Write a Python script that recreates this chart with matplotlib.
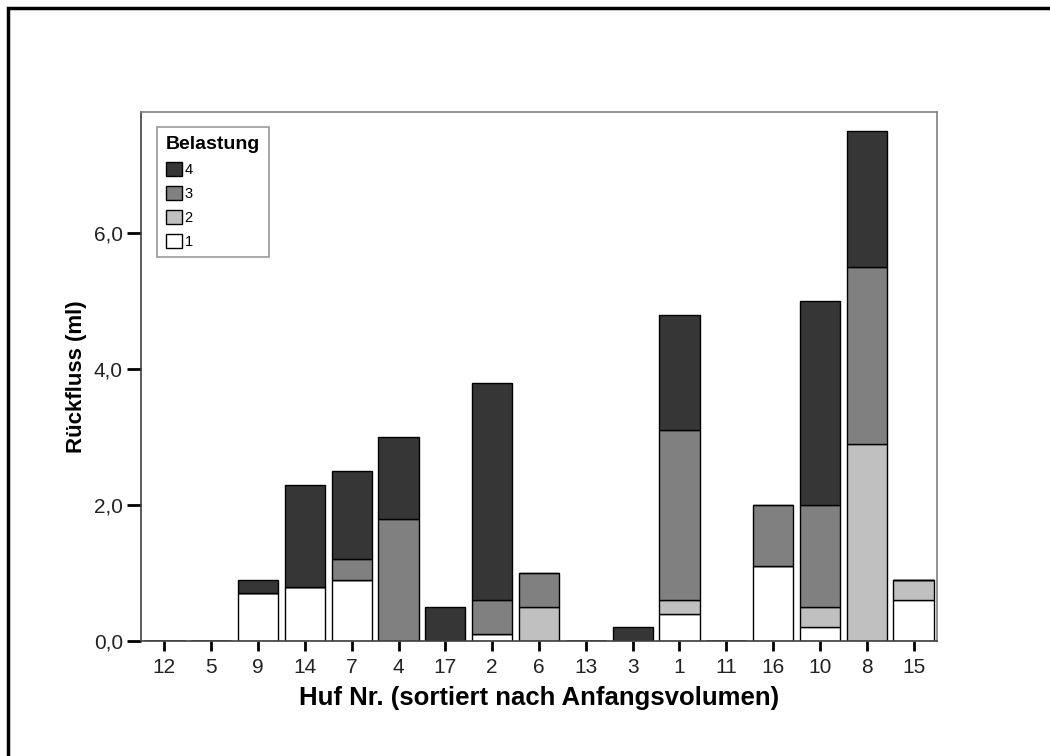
import matplotlib
matplotlib.use("Agg")
import matplotlib.pyplot as plt
from matplotlib.patches import Rectangle, Patch
import numpy as np

plt.rcParams['font.family'] = ['Liberation Sans', 'DejaVu Sans']

categories = ["12", "5", "9", "14", "7", "4", "17", "2", "6", "13", "3", "1", "11", "16", "10", "8", "15"]
belastung1 = [0, 0, 0.7, 0.8, 0.9, 0, 0, 0.1, 0, 0, 0, 0.4, 0, 1.1, 0.2, 0, 0.6]
belastung2 = [0, 0, 0, 0, 0, 0, 0, 0, 0.5, 0, 0, 0.2, 0, 0, 0.3, 2.9, 0.3]
belastung3 = [0, 0, 0, 0, 0.3, 1.8, 0, 0.5, 0.5, 0, 0, 2.5, 0, 0.9, 1.5, 2.6, 0]
belastung4 = [0, 0, 0.2, 1.5, 1.3, 1.2, 0.5, 3.2, 0, 0, 0.2, 1.7, 0, 0, 3.0, 2.0, 0]
series_labels = ["1", "2", "3", "4"]
colors = ["#ffffff", "#c0c0c0", "#808080", "#363636"]

fig = plt.figure(figsize=(10.5, 7.56), dpi=100)
ax = fig.add_axes([141/1050, 115/756, (937-141)/1050, (641-112)/756])

x = np.arange(len(categories))
bottom = np.zeros(len(categories))
handles = []
for vals, lab, col in zip([belastung1, belastung2, belastung3, belastung4], series_labels, colors):
    v = np.array(vals, dtype=float)
    ax.bar(x, v, bottom=bottom, width=0.86, color=col, edgecolor="black", linewidth=1.0, label=lab)
    handles.append(Patch(facecolor=col, edgecolor="black", linewidth=1.0, label=lab))
    bottom += v

ax.set_xlim(-0.5, len(categories) - 0.5)
ax.set_ylim(0, 7.78)
ax.set_yticks([0, 2, 4, 6])
ax.set_yticklabels(["0,0", "2,0", "4,0", "6,0"])
ax.set_xticks(x)
ax.set_xticklabels(categories)
ax.tick_params(axis='both', direction='out', width=2, labelsize=15, colors='black', labelcolor='#222222')
ax.tick_params(axis='x', length=7, pad=5)
ax.tick_params(axis='y', length=10, pad=3)
for s in ['top', 'right']:
    ax.spines[s].set_color('#808080')
    ax.spines[s].set_linewidth(1.2)
for s in ['left', 'bottom']:
    ax.spines[s].set_color('#404040')
    ax.spines[s].set_linewidth(1.2)

ax.set_xlabel("Huf Nr. (sortiert nach Anfangsvolumen)", fontsize=18.5, fontweight='bold', labelpad=7)
ax.set_ylabel("Rückfluss (ml)", fontsize=16, fontweight='bold', labelpad=5)

leg = ax.legend(handles=handles[::-1], title="Belastung", loc='upper left',
                bbox_to_anchor=(0.02, 0.972), borderaxespad=0, fontsize=10.5, title_fontsize=14,
                frameon=True, fancybox=False, edgecolor='#808080',
                handlelength=1.15, handleheight=1.1, handletextpad=0.15,
                labelspacing=0.62, borderpad=0.6, alignment='left')
leg.get_title().set_fontweight('bold')
leg.get_frame().set_linewidth(1.2)

fig.patches.append(Rectangle((8/1050, -0.1), 1.2, 1 - 8/756 + 0.1, transform=fig.transFigure,
                             fill=False, edgecolor='black', linewidth=2.5, clip_on=False))

fig.savefig("out.png", dpi=100, facecolor='white')
